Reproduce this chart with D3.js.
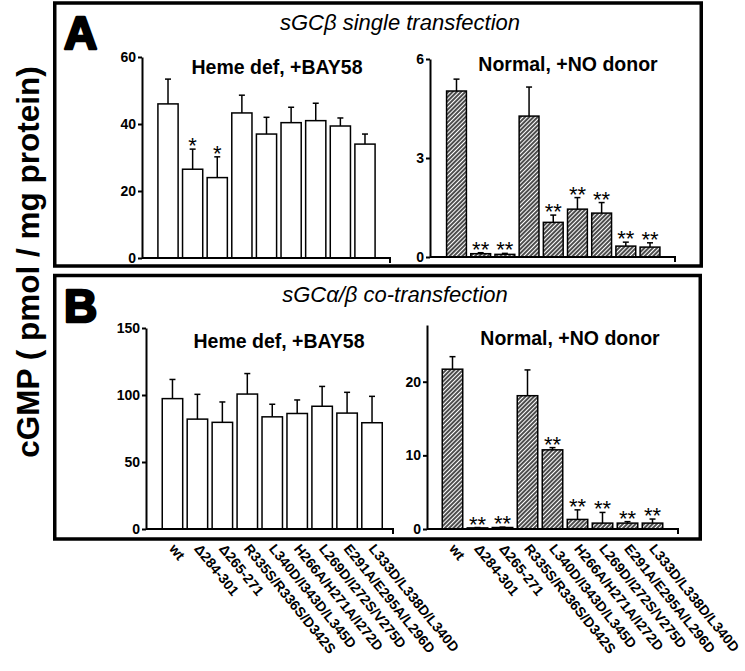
<!DOCTYPE html>
<html>
<head>
<meta charset="utf-8">
<script src="https://cdn.jsdelivr.net/npm/d3@7/dist/d3.min.js"></script>
<style>
  body { margin: 0; background: #fff; }
  svg { font-family: "Liberation Sans", Arial, sans-serif; }
</style>
</head>
<body>
<div id="chart"></div>
<script>
// mutants on the x axis (same order in every chart)
const mutants = ['wt', 'Δ284-301', 'Δ265-271', 'R335S/R336S/D342S', 'L340D/I343D/L345D',
    'H266A/H271A/I272D', 'L269D/I272S/V275D', 'E291A/E295A/L296D', 'L333D/L338D/L340D'];

// A: sGCβ single transfection
const aHemeMean = [46, 26.5, 24, 43.3, 37, 40.4, 41, 39.4, 34];
const aHemeErr = [7.4, 6, 6.2, 5.3, 5, 4.6, 5.2, 2.4, 3];
const aHemeSig = ['', '*', '*', '', '', '', '', '', ''];
const aNoMean = [5.03, 0.1, 0.08, 4.27, 1.05, 1.45, 1.33, 0.33, 0.3];
const aNoErr = [0.36, 0.03, 0.03, 0.88, 0.22, 0.35, 0.32, 0.12, 0.13];
const aNoSig = ['', '**', '**', '', '**', '**', '**', '**', '**'];

// B: sGCα/β co-transfection
const bHemeMean = [97.3, 82, 79.6, 100.7, 83.7, 86.2, 91.6, 86.5, 79.3];
const bHemeErr = [14.3, 18.5, 15.2, 15.3, 9.4, 10.1, 14.8, 15.5, 19.7];
const bHemeSig = ['', '', '', '', '', '', '', '', ''];
const bNoMean = [21.7, 0.15, 0.2, 18.1, 10.75, 1.3, 0.8, 0.8, 0.8];
const bNoErr = [1.7, 0.05, 0.05, 3.5, 0.3, 1.3, 1.45, 0.2, 0.55];
const bNoSig = ['', '**', '**', '', '**', '**', '**', '**', '**'];

const aHemeTicks = [0, 20, 40, 60];
const aNoTicks = [0, 3, 6];
const bHemeTicks = [0, 50, 100, 150];
const bNoTicks = [0, 10, 20];

const W = 745, H = 671;
const svg = d3.select('#chart').append('svg').attr('width', W).attr('height', H);
svg.append('rect').attr('width', W).attr('height', H).attr('fill', '#fff');

const pat = svg.append('defs').append('pattern')
    .attr('id', 'hatch').attr('patternUnits', 'userSpaceOnUse')
    .attr('width', 3).attr('height', 3)
    .attr('patternTransform', 'rotate(45)');
pat.append('rect').attr('width', 3).attr('height', 3).attr('fill', '#fff');
pat.append('line').attr('x1', 1).attr('x2', 1).attr('y1', 0).attr('y2', 3)
    .attr('stroke', '#111').attr('stroke-width', 1.5);

// panel frames
svg.append('rect').attr('x', 54.75).attr('y', 3).attr('width', 646.5).attr('height', 263)
    .attr('fill', 'none').attr('stroke', '#000').attr('stroke-width', 3.5);
svg.append('rect').attr('x', 54.75).attr('y', 275.5).attr('width', 645.5).attr('height', 263.5)
    .attr('fill', 'none').attr('stroke', '#000').attr('stroke-width', 3.5);

function bigLetter(txt, x, y) {
    svg.append('text').attr('x', x).attr('y', y).text(txt)
        .attr('font-size', 46).attr('font-weight', 'bold')
        .attr('stroke', '#000').attr('stroke-width', 2.6).attr('stroke-linejoin', 'round');
}
bigLetter('A', 64, 49);
bigLetter('B', 64, 322);

function italicTitle(txt, x, y) {
    svg.append('text').attr('x', x).attr('y', y).text(txt)
        .attr('text-anchor', 'middle').attr('font-size', 22).attr('font-style', 'italic');
}
italicTitle('sGCβ single transfection', 400, 30);
italicTitle('sGCα/β co-transfection', 395, 302);

svg.append('text')
    .attr('transform', 'translate(39,262) rotate(-90)')
    .attr('text-anchor', 'middle').attr('font-size', 31.5).attr('font-weight', 'bold')
    .text('cGMP ( pmol / mg protein)');

function drawChart(cfg) {
    const { means, errs, sig, ticks, yMax, axisX, y0, yTopPx, barLeft, barRight, axisEnd, hatched, title, titleX, titleY } = cfg;

    const y = d3.scaleLinear().domain([0, yMax]).range([y0, yTopPx]);
    const x = d3.scaleBand().domain(mutants).range([barLeft, barRight]).paddingInner(0.18).paddingOuter(0.09);
    const data = mutants.map((m, i) => ({ m, v: means[i], e: errs[i], s: sig[i] }));
    const g = svg.append('g');

    g.selectAll('rect.bar').data(data).enter().append('rect')
        .attr('class', 'bar')
        .attr('x', d => x(d.m))
        .attr('y', d => y(d.v))
        .attr('width', x.bandwidth())
        .attr('height', d => y0 - y(d.v))
        .attr('fill', hatched ? 'url(#hatch)' : '#fff')
        .attr('stroke', '#000').attr('stroke-width', 1.5);

    const cx = d => x(d.m) + x.bandwidth() / 2;
    g.selectAll('line.err').data(data).enter().append('line')
        .attr('x1', cx).attr('x2', cx)
        .attr('y1', d => y(d.v)).attr('y2', d => y(d.v + d.e))
        .attr('stroke', '#000').attr('stroke-width', 1.5);
    g.selectAll('line.cap').data(data).enter().append('line')
        .attr('x1', d => cx(d) - 3).attr('x2', d => cx(d) + 3)
        .attr('y1', d => y(d.v + d.e)).attr('y2', d => y(d.v + d.e))
        .attr('stroke', '#000').attr('stroke-width', 1.5);

    g.selectAll('text.sig').data(data.filter(d => d.s)).enter().append('text')
        .attr('x', cx).attr('y', d => y(d.v + d.e) + 4)
        .attr('text-anchor', 'middle').attr('font-size', 22).attr('fill', '#000')
        .text(d => d.s);

    const ax = g.append('g').attr('transform', `translate(${axisX},0)`)
        .call(d3.axisLeft(y).tickValues(ticks).tickFormat(d3.format('d'))
            .tickSize(4).tickSizeOuter(0).tickPadding(2));
    ax.select('.domain').attr('stroke-width', 2);
    ax.selectAll('.tick line').attr('stroke-width', 2);
    ax.selectAll('.tick text').attr('font-size', 14).attr('font-weight', 'bold')
        .attr('font-family', '"Liberation Sans", Arial, sans-serif');

    // baseline with the small end tick
    g.append('path')
        .attr('d', `M${axisX},${y0}H${axisEnd}V${y0 + 5}`)
        .attr('fill', 'none').attr('stroke', '#000').attr('stroke-width', 2);

    g.append('text').attr('x', titleX).attr('y', titleY).text(title)
        .attr('text-anchor', 'middle').attr('font-size', 19.5).attr('font-weight', 'bold');

    return x;
}

drawChart({ means: aHemeMean, errs: aHemeErr, sig: aHemeSig, ticks: aHemeTicks, yMax: 60,
    axisX: 142, y0: 258, yTopPx: 57, barLeft: 155.7, barRight: 377.3, axisEnd: 390,
    hatched: false, title: 'Heme def, +BAY58', titleX: 277, titleY: 74 });
drawChart({ means: aNoMean, errs: aNoErr, sig: aNoSig, ticks: aNoTicks, yMax: 6,
    axisX: 430, y0: 257, yTopPx: 59, barLeft: 444.4, barRight: 662.1, axisEnd: 675,
    hatched: true, title: 'Normal, +NO donor', titleX: 568, titleY: 71 });
const xbl = drawChart({ means: bHemeMean, errs: bHemeErr, sig: bHemeSig, ticks: bHemeTicks, yMax: 150,
    axisX: 146, y0: 529, yTopPx: 328, barLeft: 160, barRight: 384.5, axisEnd: 393,
    hatched: false, title: 'Heme def, +BAY58', titleX: 279, titleY: 348 });
const xbr = drawChart({ means: bNoMean, errs: bNoErr, sig: bNoSig, ticks: bNoTicks, yMax: 27.7,
    axisX: 427, y0: 529, yTopPx: 325, barLeft: 440, barRight: 665, axisEnd: 678,
    hatched: true, title: 'Normal, +NO donor', titleX: 570, titleY: 345 });

// rotated mutant labels under panel B
[xbl, xbr].forEach(x => {
    svg.append('g').selectAll('text').data(mutants).enter().append('text')
        .attr('transform', m => `translate(${x(m) + x.bandwidth() / 2 - 4},549) rotate(51)`)
        .attr('font-size', 14).attr('font-weight', 'bold')
        .text(m => m);
});
</script>
</body>
</html>
